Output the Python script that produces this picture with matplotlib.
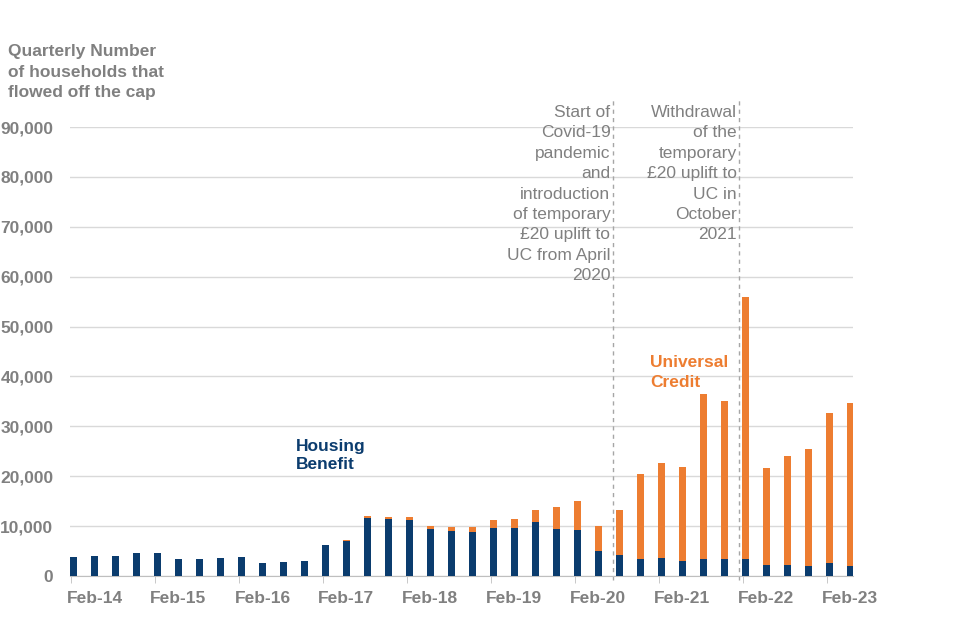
import matplotlib.pyplot as plt
import numpy as np

plt.rcParams['font.family'] = ['Liberation Sans', 'DejaVu Sans']

# quarterly flows off the cap, Nov-13 .. Feb-23
housing_benefit = [3900, 4000, 4000, 4600, 4600, 3500, 3500, 3700, 3800, 2600,
                   2800, 3100, 6200, 7000, 11700, 11400, 11300, 9500, 9100, 8900,
                   9700, 9700, 10900, 9500, 9300, 5100, 4200, 3400, 3600, 3000,
                   3400, 3400, 3400, 2200, 2200, 2000, 2600, 2000]
totals = [3900, 4000, 4000, 4600, 4600, 3500, 3500, 3700, 3800, 2600,
          2800, 3100, 6200, 7200, 12000, 11800, 11800, 10000, 9800, 9800,
          11200, 11400, 13200, 13800, 15000, 10000, 13200, 20400, 22600, 21900,
          36400, 35100, 56000, 21600, 24100, 25500, 32700, 34700]
universal_credit = [t - h for t, h in zip(totals, housing_benefit)]

year_labels = ['Feb-14', 'Feb-15', 'Feb-16', 'Feb-17', 'Feb-18',
               'Feb-19', 'Feb-20', 'Feb-21', 'Feb-22', 'Feb-23']
label_pos = [1, 5, 9, 13, 17, 21, 25, 29, 33, 37]

covid_note = ('Start of\nCovid-19\npandemic\nand\nintroduction\nof temporary\n'
              '£20 uplift to\nUC from April\n2020')
withdraw_note = ('Withdrawal\nof the\ntemporary\n£20 uplift to\nUC in\nOctober\n2021')

navy = '#0b3c6e'
orange = '#ed7d31'
grey = '#808080'

fig = plt.figure(figsize=(9.6, 6.4), dpi=100)
ax = fig.add_axes([70 / 960, 64 / 640, 783 / 960, 449 / 640])

x = np.arange(len(housing_benefit))
ax.bar(x, housing_benefit, width=0.33, color=navy, zorder=3)
ax.bar(x, universal_credit, width=0.33, bottom=housing_benefit, color=orange, zorder=3)

ax.set_xlim(-0.17, 37.14)
ax.set_ylim(0, 90000)
ax.set_yticks(np.arange(0, 90001, 10000))
ax.set_yticklabels(['0'] + [f'{v:,}' for v in range(10000, 90001, 10000)])
ax.yaxis.grid(True, color='#d9d9d9', lw=1, zorder=0)
ax.tick_params(axis='y', length=0, pad=12, labelsize=12.5, labelcolor=grey)
for lab in ax.get_yticklabels():
    lab.set_fontweight('bold')

ax.set_xticks(label_pos)
ax.set_xticklabels(year_labels, fontweight='bold')
ax.set_xticks(np.arange(0, 38, 4) - 0.12, minor=True)
ax.tick_params(axis='x', which='major', length=0, pad=11, labelsize=12.5, labelcolor=grey)
ax.tick_params(axis='x', which='minor', length=5, color='#bfbfbf')

for s in ['top', 'right', 'left']:
    ax.spines[s].set_visible(False)
ax.spines['bottom'].set_color('#bfbfbf')

# event markers
for xv, note in [(25.7, covid_note), (31.72, withdraw_note)]:
    ax.plot([xv, xv], [-800, 95400], color='#a6a6a6', lw=1, ls=(0, (3, 3)),
            clip_on=False, zorder=2)
    ax.text(xv - 0.12, 94400, note, ha='right', va='top', fontsize=12.5,
            color=grey, linespacing=1.45, zorder=4)

ax.text(10.6, 27400, 'Housing\nBenefit', color=navy, fontsize=12.5,
        fontweight='bold', va='top', ha='left', linespacing=1.22)
ax.text(27.46, 44200, 'Universal\nCredit', color=orange, fontsize=12.5,
        fontweight='bold', va='top', ha='left', linespacing=1.4)

fig.text(8 / 960, 1 - 44 / 640, 'Quarterly Number\nof households that\nflowed off the cap',
         ha='left', va='top', fontsize=12.5, fontweight='bold', color=grey,
         linespacing=1.47)

fig.savefig('out.png', dpi=100)
